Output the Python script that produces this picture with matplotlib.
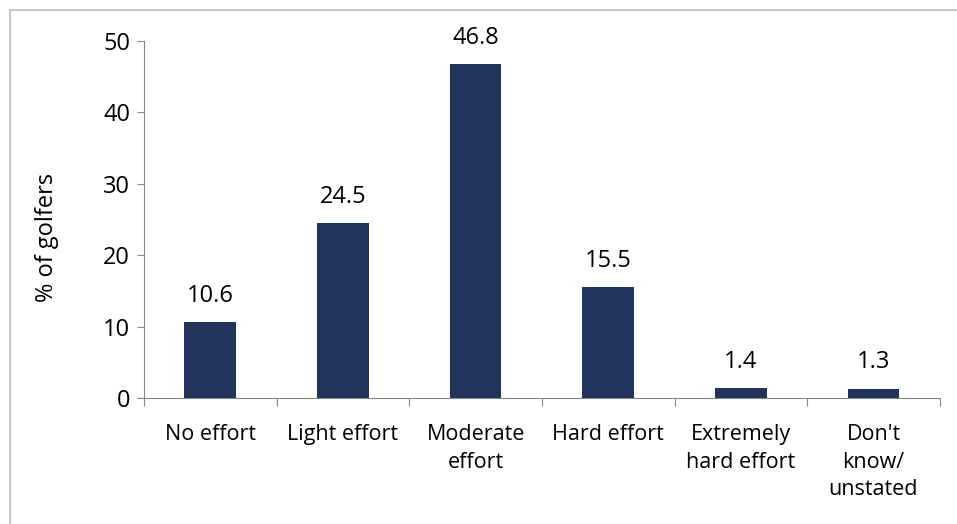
import matplotlib
matplotlib.use('Agg')
import matplotlib.pyplot as plt
from matplotlib.patches import Rectangle

categories = ['No effort', 'Light effort', 'Moderate\neffort', 'Hard effort',
              'Extremely\nhard effort', "Don't\nknow/\nunstated"]
values = [10.6, 24.5, 46.8, 15.5, 1.4, 1.3]
yticks = [0, 10, 20, 30, 40, 50]

plt.rcParams['font.family'] = ['Open Sans', 'DejaVu Sans']

fig = plt.figure(figsize=(9.57, 5.24), dpi=100)
ax = fig.add_axes([0.1505, 0.2405, 0.8315, 0.6813])

x = range(len(categories))
ax.bar(x, values, width=0.39, color='#22345C')
for i, v in enumerate(values):
    ax.text(i, v + 2.0, f'{v:.1f}', ha='center', va='bottom', fontsize=17)

ax.set_xlim(-0.5, len(categories) - 0.5)
ax.set_ylim(0, 50)
ax.set_yticks(yticks)
ax.tick_params(axis='y', labelsize=17, length=5, color='#868686', pad=5)
ax.set_xticks([i - 0.5 for i in range(len(categories) + 1)], minor=False)
ax.set_xticklabels([])
ax.set_xticks(list(x), minor=True)
ax.set_xticklabels(categories, minor=True, fontsize=15.5, linespacing=1.4)
ax.tick_params(axis='x', which='major', length=6, color='#868686')
ax.tick_params(axis='x', which='minor', length=0, pad=19)

ax.spines['top'].set_visible(False)
ax.spines['right'].set_visible(False)
ax.spines['left'].set_color('#868686')
ax.spines['bottom'].set_color('#868686')
ax.set_ylabel('% of golfers', fontsize=17, labelpad=32)
ax.yaxis.label.set_y(0.45)

fig.patches.append(Rectangle((10 / 957, -0.1), 1.1, 1.1 - 10 / 524,
                             transform=fig.transFigure, fill=False,
                             edgecolor='#C0C0C0', linewidth=1.3))

fig.savefig('out.png', dpi=100)
